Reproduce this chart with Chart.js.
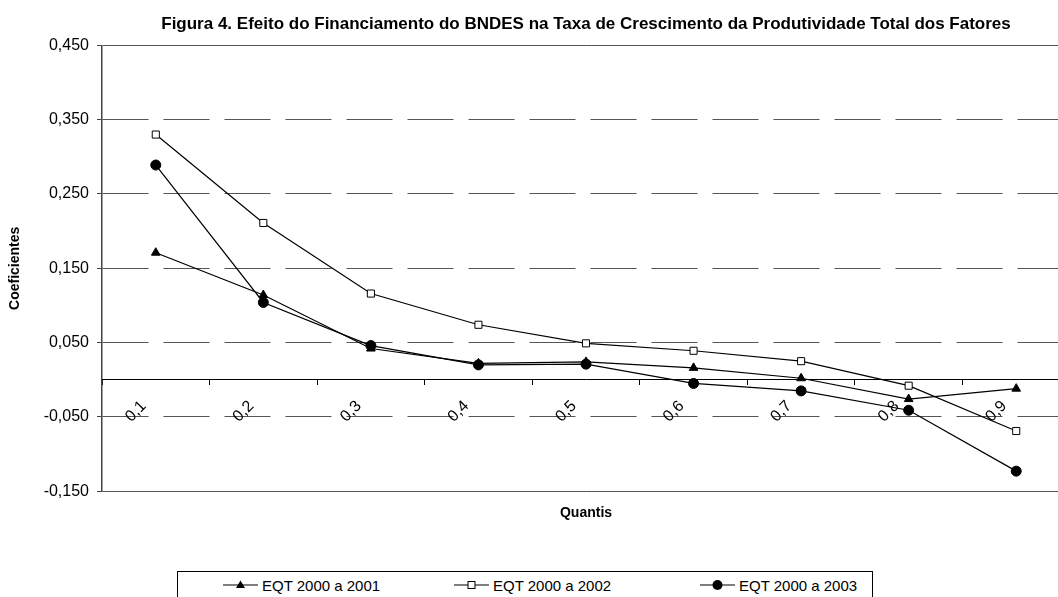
<!DOCTYPE html>
<html><head><meta charset="utf-8">
<script src="https://cdn.jsdelivr.net/npm/chart.js@4.4.0/dist/chart.umd.min.js"></script>
<style>
html,body{margin:0;padding:0;background:#fff;overflow:hidden;width:1058px;height:597px;}
#wrap{position:absolute;left:0;top:0;width:1080px;height:530px;}
#legend{position:absolute;left:177px;top:571px;width:696px;height:40px;border:1px solid #000;box-sizing:border-box;font-family:"Liberation Sans",Arial,sans-serif;font-size:15px;color:#000;}
.item{position:absolute;top:4px;height:18px;display:flex;align-items:center;white-space:nowrap;}
.item svg{margin-right:4px;}
</style></head><body>
<div id="wrap"><canvas id="c" width="1080" height="530"></canvas></div>
<div id="legend"></div>
<script>
const categories = ['0,1','0,2','0,3','0,4','0,5','0,6','0,7','0,8','0,9'];
const eqt2001 = [0.171, 0.114, 0.042, 0.022, 0.024, 0.016, 0.002, -0.026, -0.012];
const eqt2002 = [0.330, 0.211, 0.116, 0.074, 0.049, 0.039, 0.025, -0.008, -0.069];
const eqt2003 = [0.289, 0.104, 0.046, 0.020, 0.021, -0.005, -0.015, -0.041, -0.123];
const seriesNames = ['EQT 2000 a 2001', 'EQT 2000 a 2002', 'EQT 2000 a 2003'];
const yTicks = [-0.15, -0.05, 0.05, 0.15, 0.25, 0.35, 0.45];
const titleText = 'Figura 4. Efeito do Financiamento do BNDES na Taxa de Crescimento da Produtividade Total dos Fatores';
const xTitle = 'Quantis';
const yTitle = 'Coeficientes';

Chart.defaults.font.family = '"Liberation Sans", Arial, sans-serif';
Chart.defaults.color = '#000';

const fmt = v => v.toFixed(3).replace('.', ',');

const styles = [
  {pointStyle:'triangle', pointRadius:5, bg:'#000'},
  {pointStyle:'rect', pointRadius:5, bg:'#fff'},
  {pointStyle:'circle', pointRadius:5, bg:'#000'}
];
const seriesData = [eqt2001, eqt2002, eqt2003];

const datasets = seriesData.map((d, i) => ({
  label: seriesNames[i],
  data: d,
  borderColor: '#000',
  borderWidth: 1.2,
  backgroundColor: styles[i].bg,
  pointStyle: styles[i].pointStyle,
  pointRadius: styles[i].pointRadius,
  pointHoverRadius: styles[i].pointRadius,
  pointBackgroundColor: styles[i].bg,
  pointBorderColor: '#000',
  pointBorderWidth: 1,
  tension: 0,
  fill: false
}));

new Chart(document.getElementById('c'), {
  type: 'line',
  data: { labels: categories, datasets },
  options: {
    responsive: false,
    animation: false,
    layout: { padding: { left: 0, right: 10, top: 0, bottom: 0 } },
    plugins: {
      legend: { display: false },
      tooltip: { enabled: false },
      title: {
        display: true, text: titleText, fullSize: false,
        font: { weight: 'bold', size: 17 }, color: '#000',
        padding: { top: 14, bottom: 11 }
      }
    },
    scales: {
      y: {
        min: -0.15, max: 0.45,
        afterBuildTicks: s => { s.ticks = yTicks.map(v => ({ value: v })); },
        afterFit: s => { s.width = 102; },
        grid: { color: '#555', lineWidth: 1, tickLength: 5, tickColor: '#444', drawTicks: true },
        border: {
          display: true, color: '#444', width: 1.5,
          dash: ctx => (ctx.index === 0 || ctx.index === yTicks.length - 1) ? [] : [46, 15]
        },
        ticks: { padding: 8, font: { size: 16 }, color: '#000', callback: v => fmt(v) },
        title: { display: true, text: yTitle, font: { weight: 'bold', size: 14 }, color: '#000', padding: { top: 7, bottom: 0 } }
      },
      x: {
        type: 'category',
        position: { y: 0 },
        offset: true,
        grid: { display: true, drawOnChartArea: false, drawTicks: true, tickLength: 5, offset: true, color: '#000', tickColor: '#000' },
        border: { display: true, color: '#000', width: 1 },
        ticks: { autoSkip: false, minRotation: 45, maxRotation: 45, labelOffset: -12, padding: 12, font: { size: 16 }, color: '#000' }
      },
      x2: {
        type: 'category',
        position: 'bottom',
        labels: categories,
        grid: { display: false, drawTicks: false },
        border: { display: false },
        ticks: { display: false },
        title: { display: true, text: xTitle, font: { weight: 'bold', size: 14 }, color: '#000', padding: { top: 14, bottom: 8 } }
      }
    }
  }
});

// HTML legend (line + marker samples)
const legendPos = [45, 276, 522];
const markerSvg = i => {
  const line = '<line x1="0" y1="7" x2="35" y2="7" stroke="#000" stroke-width="1.2"/>';
  let m;
  if (i === 0) m = '<polygon points="17.5,2.5 22,10 13,10" fill="#000"/>';
  else if (i === 1) m = '<rect x="14" y="3.5" width="7" height="7" fill="#fff" stroke="#000" stroke-width="1"/>';
  else m = '<circle cx="17.5" cy="7" r="5" fill="#000"/>';
  return '<svg width="35" height="14" viewBox="0 0 35 14">' + line + m + '</svg>';
};
const lg = document.getElementById('legend');
seriesNames.forEach((n, i) => {
  const d = document.createElement('div');
  d.className = 'item';
  d.style.left = legendPos[i] + 'px';
  d.innerHTML = markerSvg(i) + '<span>' + n + '</span>';
  lg.appendChild(d);
});
</script>
</body></html>
